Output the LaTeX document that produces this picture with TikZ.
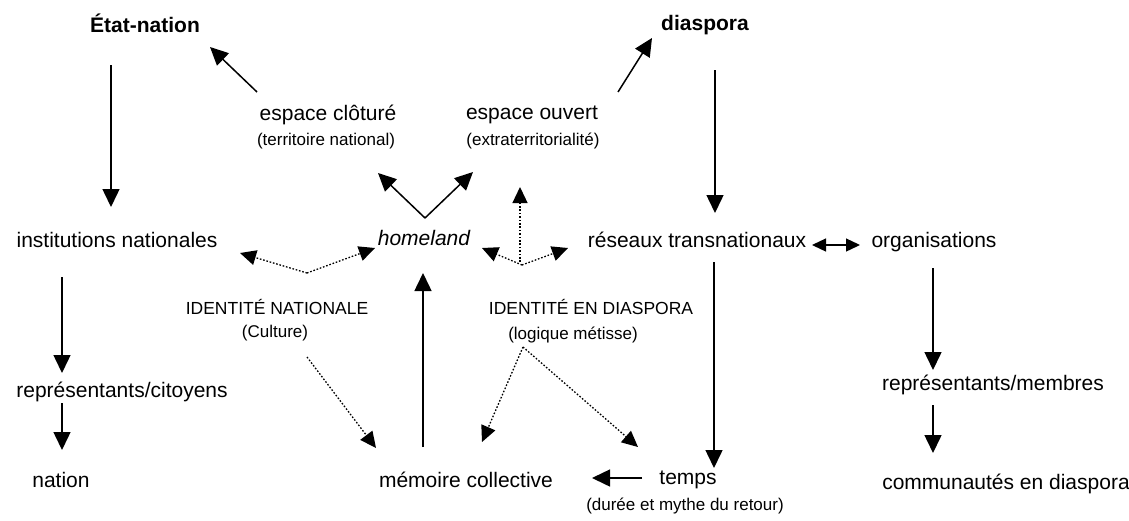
\documentclass[tikz,border=0pt]{standalone}
\usepackage{fontspec}
\setmainfont{Liberation Sans}
\usetikzlibrary{arrows.meta}

\begin{document}
\begin{tikzpicture}[x=1pt,y=-1pt,
  base/.style={inner sep=0pt, text height=0.75em, text depth=0.22em},
  lbl/.style={base, font=\fontsize{21}{25}\selectfont},
  hd/.style={base, font=\fontsize{21}{25}\selectfont\bfseries},
  sub/.style={base, font=\fontsize{17}{20}\selectfont},
  caps/.style={base, font=\fontsize{17.5}{20}\selectfont},
  arr/.style={line width=1.5pt, -{Triangle[length=18pt,width=17pt]}},
  dotarr/.style={line width=1.3pt, dash pattern=on 1.6pt off 1.8pt, -{Triangle[length=16pt,width=15pt]}},
  dbl/.style={line width=1.3pt, {Triangle[length=14pt,width=13pt]}-{Triangle[length=14pt,width=13pt]}},
]
\useasboundingbox (0,0) rectangle (1129,520);

% labels
\node[hd]   (etat)  at (145,30)  {État-nation};
\node[hd]   (dia)   at (705,28)  {diaspora};
\node[lbl]  (clot)  at (328,118) {espace clôturé};
\node[sub]  (terr)  at (326,143) {(territoire national)};
\node[lbl]  (ouv)   at (532,117) {espace ouvert};
\node[sub]  (extra) at (533,143) {(extraterritorialité)};
\node[lbl]  (inst)  at (117,245) {institutions nationales};
\node[lbl, font=\fontsize{21}{25}\selectfont\itshape] (home) at (424,243) {homeland};
\node[lbl]  (res)   at (697,245) {réseaux transnationaux};
\node[lbl]  (org)   at (934,245) {organisations};
\node[caps] (idn)   at (277,312) {IDENTITÉ NATIONALE};
\node[sub]  (cult)  at (275,335) {(Culture)};
\node[caps] (idd)   at (591,312) {IDENTITÉ EN DIASPORA};
\node[sub]  (logi)  at (573,337) {(logique métisse)};
\node[lbl]  (repc)  at (122,395) {représentants/citoyens};
\node[lbl]  (repm)  at (993,388) {représentants/membres};
\node[lbl]  (nat)   at (61,485)  {nation};
\node[lbl]  (mem)   at (466,485) {mémoire collective};
\node[lbl]  (temps) at (688,482) {temps};
\node[sub]  (duree) at (685,508) {(durée et mythe du retour)};
\node[lbl]  (comm)  at (1006,487) {communautés en diaspora};

% connector ends
\coordinate (etatA) at (111,65);   \coordinate (etatB) at (111,207);
\coordinate (clotA) at (257,92);   \coordinate (clotB) at (210,47);
\coordinate (ouvA)  at (618,92);   \coordinate (ouvB)  at (652,38);
\coordinate (diaA)  at (715,70);   \coordinate (diaB)  at (715,213);
\coordinate (vtop)  at (425,218);
\coordinate (vL)    at (378,173);  \coordinate (vR)    at (473,172);
\coordinate (upA)   at (520,262);  \coordinate (upB)   at (520,187);
\coordinate (lv)    at (307,273);
\coordinate (lvL)   at (240,253);  \coordinate (lvR)   at (375,248);
\coordinate (rv)    at (522,265);
\coordinate (rvL)   at (482,248);  \coordinate (rvR)   at (568,248);
\coordinate (dblA)  at (812,245);  \coordinate (dblB)  at (860,245);
\coordinate (instA) at (62,277);   \coordinate (instB) at (62,373);
\coordinate (repcA) at (62,403);   \coordinate (repcB) at (62,450);
\coordinate (orgA)  at (933,268);  \coordinate (orgB)  at (933,370);
\coordinate (repmA) at (933,405);  \coordinate (repmB) at (933,453);
\coordinate (memA)  at (423,447);  \coordinate (memB)  at (423,273);
\coordinate (cultA) at (307,357);  \coordinate (cultB) at (376,448);
\coordinate (logA)  at (523,347);
\coordinate (logL)  at (482,442);  \coordinate (logR)  at (638,447);
\coordinate (tpsA)  at (642,478);  \coordinate (tpsB)  at (592,478);
\coordinate (resA)  at (714,262);  \coordinate (resB)  at (714,468);

% solid arrows
\draw[arr] (etatA) -- (etatB);
\draw[arr] (clotA) -- (clotB);
\draw[arr] (ouvA) -- (ouvB);
\draw[arr] (diaA) -- (diaB);
\draw[arr] (vtop) -- (vL);
\draw[arr] (vtop) -- (vR);
\draw[arr] (instA) -- (instB);
\draw[arr] (repcA) -- (repcB);
\draw[arr] (orgA) -- (orgB);
\draw[arr] (repmA) -- (repmB);
\draw[arr] (memA) -- (memB);
\draw[arr] (tpsA) -- (tpsB);
\draw[arr] (resA) -- (resB);
\draw[dbl] (dblA) -- (dblB);

% dotted arrows
\draw[dotarr] (upA) -- (upB);
\draw[dotarr] (lv) -- (lvL);
\draw[dotarr] (lv) -- (lvR);
\draw[dotarr] (rv) -- (rvL);
\draw[dotarr] (rv) -- (rvR);
\draw[dotarr] (cultA) -- (cultB);
\draw[dotarr] (logA) -- (logL);
\draw[dotarr] (logA) -- (logR);
\end{tikzpicture}
\end{document}
